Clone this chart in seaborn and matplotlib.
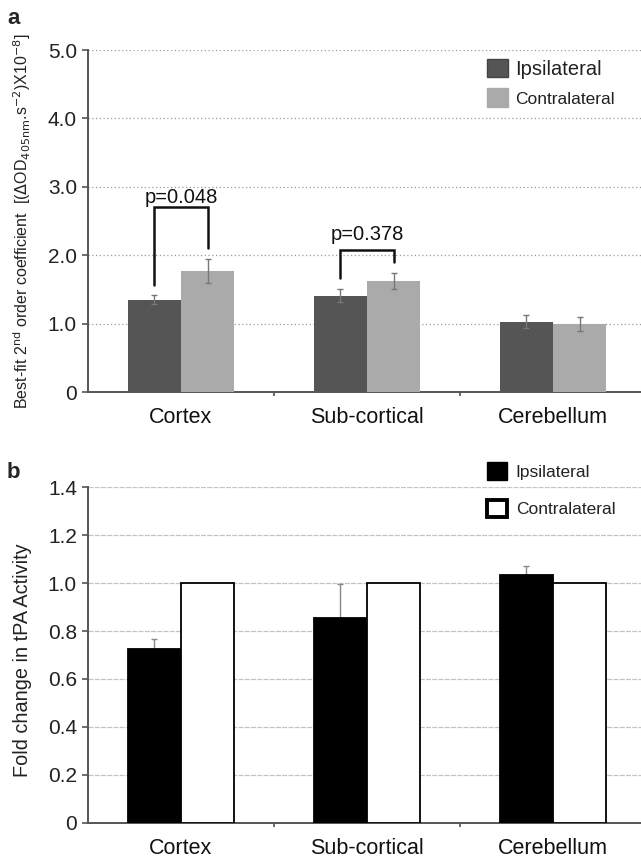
import numpy as np
import pandas as pd
import matplotlib
matplotlib.use("Agg")
import matplotlib.pyplot as plt
import seaborn as sns
from matplotlib.patches import Patch

# ---- data ----
regions = ["Cortex", "Sub-cortical", "Cerebellum"]
sides = ["Ipsilateral", "Contralateral"]

coef_ipsi = [1.35, 1.41, 1.03]
coef_contra = [1.77, 1.62, 0.99]
coef_ipsi_err = [0.07, 0.10, 0.10]
coef_contra_err = [0.18, 0.12, 0.10]
p_values = ["p=0.048", "p=0.378"]

fold_ipsi = [0.725, 0.856, 1.033]
fold_contra = [1.0, 1.0, 1.0]
fold_ipsi_err = [0.04, 0.14, 0.04]

a_ticks = [0, 1, 2, 3, 4, 5]
a_ticklabels = ["0", "1.0", "2.0", "3.0", "4.0", "5.0"]
b_ticks = [0, 0.2, 0.4, 0.6, 0.8, 1.0, 1.2, 1.4]
b_ticklabels = ["0", "0.2", "0.4", "0.6", "0.8", "1.0", "1.2", "1.4"]

sns.set_theme(style="white")
plt.rcParams["font.family"] = ["Liberation Sans", "DejaVu Sans"]
NARROW = ["Liberation Sans Narrow", "Liberation Sans", "DejaVu Sans"]

W, H = 641, 861
fig = plt.figure(figsize=(W / 100, H / 100), dpi=100)

def frame(px_left, px_top, px_bottom):
    return [px_left / W, 1 - px_bottom / H, 1 - px_left / W, (px_bottom - px_top) / H]

ax_a = fig.add_axes(frame(88, 50, 392))
ax_b = fig.add_axes(frame(88, 487.3, 822.7))

XLIM = (-0.5, -0.5 + 553 / 186)


def long_table(ipsi, contra):
    return pd.DataFrame({
        "region": regions * 2,
        "side": [sides[0]] * 3 + [sides[1]] * 3,
        "value": list(ipsi) + list(contra),
    })


def style_axis(ax, ticks, labels, top):
    ax.set_xlim(*XLIM)
    ax.set_ylim(0, top)
    ax.set_yticks(ticks)
    ax.set_yticklabels(labels, fontsize=15, color="#222222")
    ax.set_xticks(range(3))
    ax.set_xticklabels(regions, fontsize=15.5, color="#111111")
    ax.tick_params(axis="x", length=0, pad=11)
    ax.tick_params(axis="y", length=4, width=1.2, color="#555555", direction="out", pad=4, left=True)
    ax.set_xticks([0.5, 1.5], minor=True)
    ax.tick_params(axis="x", which="minor", length=3, width=1.2, color="#555555", direction="out", bottom=True)
    for s in ["top", "right"]:
        ax.spines[s].set_visible(False)
    for s in ["left", "bottom"]:
        ax.spines[s].set_color("#555555")
        ax.spines[s].set_linewidth(1.4)
    ax.set_xlabel("")


# ---- panel a ----
df_a = long_table(coef_ipsi, coef_contra)
sns.barplot(data=df_a, x="region", y="value", hue="side", order=regions, hue_order=sides,
            palette=["#555555", "#aaaaaa"], width=0.57, gap=0, errorbar=None,
            saturation=1, linewidth=0, ax=ax_a, legend=False, zorder=3)
style_axis(ax_a, a_ticks, a_ticklabels, 5)
ax_a.yaxis.grid(True, color="#9a9a9a", linestyle=(0, (1, 2)), linewidth=0.9)
ax_a.set_axisbelow(True)

bars_a = sorted(ax_a.patches, key=lambda p: p.get_x())
centers_a = [p.get_x() + p.get_width() / 2 for p in bars_a]
ipsi_x_a = centers_a[0::2]
contra_x_a = centers_a[1::2]
ax_a.errorbar(ipsi_x_a, coef_ipsi, yerr=coef_ipsi_err, fmt="none", ecolor="#777777",
              elinewidth=1, capsize=2, capthick=1, zorder=4)
ax_a.errorbar(contra_x_a, coef_contra, yerr=coef_contra_err, fmt="none", ecolor="#777777",
              elinewidth=1, capsize=2, capthick=1, zorder=4)

# significance brackets: (group, left leg bottom, right leg bottom, bracket top, label baseline)
brackets = [
    (0, 1.56, 2.10, 2.70, 2.77),
    (1, 1.67, 1.90, 2.08, 2.22),
]
for (i, yl, yr, ytop, ytxt), label in zip(brackets, p_values):
    xl, xr = ipsi_x_a[i], contra_x_a[i]
    ax_a.plot([xl, xl, xr, xr], [yl, ytop, ytop, yr], color="#111111", lw=1.8,
              solid_joinstyle="miter", zorder=5)
    ax_a.text((xl + xr) / 2, ytxt, label, ha="center", va="baseline", fontsize=14.5, color="#111111")

ax_a.set_ylabel(r"Best-fit 2$^{\mathrm{nd}}$ order coefficient  [($\Delta$OD$_{\mathrm{405nm}}$.s$^{-2}$)X10$^{-8}$]",
                fontsize=11.5, color="#222222")
ax_a.yaxis.set_label_coords(-0.1, 0.5)

leg_a = ax_a.legend(handles=[Patch(facecolor="#555555", edgecolor="#444444"),
                             Patch(facecolor="#aaaaaa", edgecolor="#aaaaaa")],
                    labels=sides, loc="upper left", bbox_to_anchor=(0.707, 0.998),
                    frameon=False, handlelength=1.05, handleheight=1.05, handletextpad=0.35,
                    labelspacing=0.45, borderaxespad=0, prop={"size": 14.5})
leg_a.get_texts()[1].set_fontsize(12.5)
for t in leg_a.get_texts():
    t.set_family(NARROW)
    t.set_color("#222222")

# ---- panel b ----
df_b = long_table(fold_ipsi, fold_contra)
sns.barplot(data=df_b, x="region", y="value", hue="side", order=regions, hue_order=sides,
            palette=["#000000", "#ffffff"], width=0.57, gap=0, errorbar=None,
            saturation=1, linewidth=1.3, edgecolor="#000000", ax=ax_b, legend=False, zorder=3)
style_axis(ax_b, b_ticks, b_ticklabels, 1.4)
ax_b.yaxis.grid(True, color="#c4c4c4", linestyle=(0, (4, 1)), linewidth=0.9)
ax_b.set_axisbelow(True)

bars_b = sorted(ax_b.patches, key=lambda p: p.get_x())
centers_b = [p.get_x() + p.get_width() / 2 for p in bars_b]
ipsi_x_b = centers_b[0::2]
ax_b.errorbar(ipsi_x_b, fold_ipsi, yerr=[np.zeros(3), fold_ipsi_err], fmt="none",
              ecolor="#888888", elinewidth=1, capsize=2, capthick=1, zorder=2)

ax_b.set_ylabel("Fold change in tPA Activity", fontsize=14.3, color="#222222")
ax_b.yaxis.set_label_coords(-0.101, 0.485)

leg_b = ax_b.legend(handles=[Patch(facecolor="#000000", edgecolor="#000000"),
                             Patch(facecolor="#ffffff", edgecolor="#000000", linewidth=2.8)],
                    labels=sides, loc="upper left", bbox_to_anchor=(0.709, 1.095),
                    frameon=False, handlelength=1.15, handleheight=1.15, handletextpad=0.5,
                    labelspacing=1.15, borderaxespad=0, prop={"size": 12.5})
for t in leg_b.get_texts():
    t.set_family(NARROW)
    t.set_color("#222222")

# panel letters
fig.text(7 / W, 1 - 24 / H, "a", fontsize=16, fontweight="bold", va="baseline", ha="left")
fig.text(7 / W, 1 - 478 / H, "b", fontsize=16, fontweight="bold", va="baseline", ha="left")

fig.savefig("out.png", dpi=100)
